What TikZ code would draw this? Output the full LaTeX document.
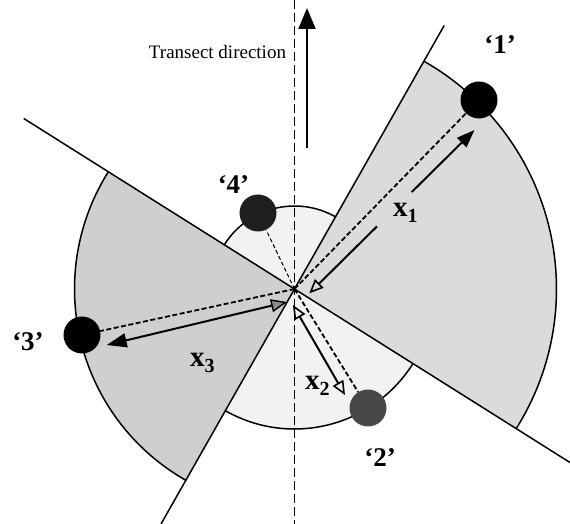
\documentclass[tikz,border=0pt]{standalone}
\usepackage{fontspec}
\setmainfont{Liberation Serif}
\usetikzlibrary{arrows.meta,calc}
\begin{document}
\begin{tikzpicture}[x=1pt,y=1pt,
  sectorline/.style={line width=1.5pt},
  rightsector/.style={fill=black!14},
  leftsector/.style={fill=black!19},
  smallsector/.style={fill=black!5},
  ball/.style={circle,fill=black,inner sep=0pt,minimum size=37pt},
  greyball/.style={ball,fill=black!72},
  darkball/.style={ball,fill=black!88},
  ray/.style={line width=1.8pt,dash pattern=on 5pt off 2.5pt},
  thinray/.style={line width=1pt,dash pattern=on 4pt off 2.5pt},
  arr/.style={line width=2pt},
  axis/.style={line width=1.3pt,dash pattern=on 9pt off 4pt},
  numlabel/.style={font=\fontsize{27}{28}\selectfont\bfseries,inner sep=0pt},
  xlabel/.style={font=\fontsize{29}{30}\selectfont\bfseries,inner sep=0pt,anchor=base west},
]
\useasboundingbox (-294.5,-235) rectangle (275.5,289);
\coordinate (C) at (0,0);

% sectors
\fill[rightsector] (C) -- (-32.2:262) arc[start angle=-32.2,end angle=60.4,radius=262] -- cycle;
\fill[smallsector] (C) -- (60.4:83) arc[start angle=60.4,end angle=147.8,radius=83] -- cycle;
\fill[leftsector] (C) -- (147.8:220) arc[start angle=147.8,end angle=240.4,radius=220] -- cycle;
\fill[smallsector] (C) -- (240.4:140) arc[start angle=240.4,end angle=327.8,radius=140] -- cycle;
\draw[sectorline] (-32.2:262) arc[start angle=-32.2,end angle=60.4,radius=262];
\draw[sectorline] (60.4:83) arc[start angle=60.4,end angle=147.8,radius=83];
\draw[sectorline] (147.8:220) arc[start angle=147.8,end angle=240.4,radius=220];
\draw[sectorline] (240.4:140) arc[start angle=240.4,end angle=327.8,radius=140];

% boundary lines
\coordinate (l1a) at (240.4:270);
\coordinate (l1b) at (60.4:303);
\coordinate (l2a) at (147.8:320);
\coordinate (l2b) at (-32.2:332);
\draw[sectorline] (l1a) -- (l1b);
\draw[sectorline] (l2a) -- (l2b);

% transect axis and direction arrow
\coordinate (axtop) at (0,289);
\coordinate (axbot) at (0,-235);
\draw[axis] (axtop) -- (axbot);
\coordinate (dirS) at (12.5,141);
\coordinate (dirE) at (12.5,281);
\draw[line width=2pt,-{Triangle[length=21pt,width=17pt]}] (dirS) -- (dirE);
\node[font=\fontsize{19}{20}\selectfont,inner sep=0pt] (tl) at (-77,237) {Transect direction};

% balls
\node[ball] (b1) at (184.5,189) {};
\node[greyball] (b2) at (73.5,-119) {};
\node[ball] (b3) at (-212.5,-46) {};
\node[darkball] (b4) at (-36.5,76) {};

% dashed rays
\draw[ray] (C) -- (b1);
\draw[ray] (C) -- (b2);
\draw[ray] (C) -- (b3);
\draw[thinray] (C) -- (b4);

% distance arrows
\coordinate (x1s) at (14.8,-4.3);
\coordinate (x1e) at (180,159);
\coordinate (x1a) at ($(x1s)!0.41!(x1e)$);
\coordinate (x1b) at ($(x1s)!0.62!(x1e)$);
\draw[arr,{Triangle[open,length=14pt,width=12pt,line width=1.6pt]}-] (x1s) -- (x1a);
\draw[arr,-{Triangle[length=18pt,width=13pt]}] (x1b) -- (x1e);

\coordinate (x2s) at (-1.5,-16);
\coordinate (x2e) at (50.5,-106);
\draw[arr,{Triangle[open,length=14pt,width=12pt,line width=1.6pt]}-{Triangle[open,length=14pt,width=12pt,line width=1.6pt]}] (x2s) -- (x2e);

\coordinate (x3s) at (-7.5,-13);
\coordinate (x3e) at (-187.8,-56);
\draw[arr,{Triangle[fill=black!45,length=16pt,width=13pt,line width=1.4pt]}-{Triangle[length=20pt,width=14pt]}] (x3s) -- (x3e);

% labels
\node[numlabel] (n1) at (205.5,244) {`1'};
\node[numlabel] (n2) at (85.5,-168.5) {`2'};
\node[numlabel] (n3) at (-266.5,-52.5) {`3'};
\node[numlabel] (n4) at (-61,104) {`4'};
\node[xlabel] (lx1) at (98.5,72) {x\raisebox{-6pt}{\fontsize{20}{20}\selectfont 1}};
\node[xlabel] (lx2) at (10.5,-101) {x\raisebox{-6pt}{\fontsize{20}{20}\selectfont 2}};
\node[xlabel] (lx3) at (-104.5,-77.7) {x\raisebox{-6pt}{\fontsize{20}{20}\selectfont 3}};
\end{tikzpicture}
\end{document}
